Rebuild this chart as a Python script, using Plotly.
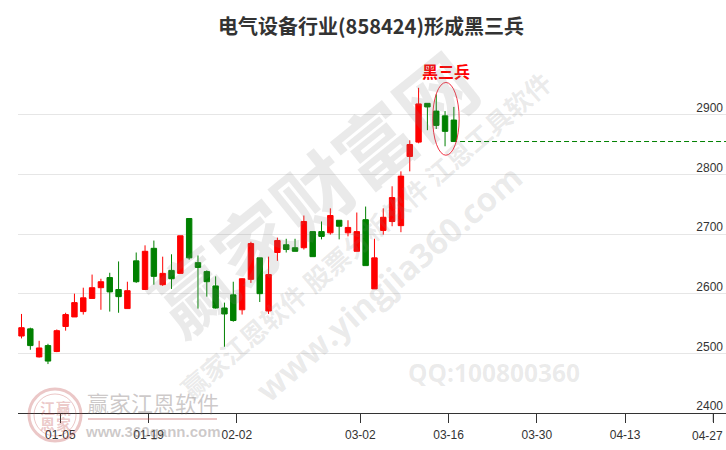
import plotly.graph_objects as go

# 蜡烛图数据
opens = [2529, 2541, 2494, 2513, 2503, 2545, 2561, 2570, 2592, 2610,
         2627, 2607, 2575, 2655, 2607, 2676, 2615, 2639, 2634, 2726,
         2652, 2637, 2613, 2576, 2598, 2573, 2624, 2660, 2571, 2669,
         2682, 2677, 2677, 2704, 2704, 2702, 2723, 2702, 2671, 2724,
         2608, 2706, 2721, 2714, 2830, 2854, 2919, 2906, 2898, 2891]
closes = [2543, 2513, 2509, 2487, 2538, 2565, 2585, 2593, 2610, 2620,
          2603, 2595, 2605, 2620, 2671, 2629, 2634, 2625, 2697, 2660,
          2644, 2620, 2576, 2566, 2555, 2625, 2684, 2600, 2632, 2689,
          2674, 2671, 2721, 2662, 2696, 2731, 2713, 2711, 2704, 2647,
          2660, 2728, 2761, 2797, 2850, 2918, 2913, 2882, 2872, 2855]
highs = [2566, 2543, 2521, 2516, 2540, 2568, 2600, 2610, 2632, 2625,
         2635, 2654, 2620, 2669, 2681, 2689, 2662, 2666, 2697, 2726,
         2664, 2639, 2629, 2585, 2620, 2626, 2687, 2660, 2662, 2694,
         2692, 2692, 2731, 2704, 2721, 2743, 2723, 2723, 2736, 2746,
         2692, 2743, 2780, 2805, 2857, 2945, 2919, 2934, 2906, 2913]
lows = [2525, 2506, 2493, 2482, 2502, 2538, 2561, 2565, 2592, 2573,
        2570, 2568, 2575, 2618, 2607, 2615, 2613, 2608, 2634, 2657,
        2575, 2595, 2575, 2511, 2553, 2565, 2618, 2586, 2566, 2655,
        2669, 2671, 2674, 2662, 2691, 2699, 2691, 2696, 2671, 2647,
        2608, 2699, 2713, 2703, 2805, 2852, 2874, 2876, 2847, 2855]

x_tick_index = [5, 15, 25, 39, 49, 59, 69, 79]
x_tick_labels = ['01-05', '01-19', '02-02', '03-02', '03-16', '03-30', '04-13', '04-27']
y_tick_vals = [2400, 2500, 2600, 2700, 2800, 2900, 3000]
y_tick_labels = ['2400', '2500', '2600', '2700', '2800', '2900', '']

W, H = 726, 450
L, T, B = 18, 55, 37
FONT = 'Liberation Sans'
CJK = 'Noto Sans CJK SC'
WM = 'rgba(128,128,128,0.17)'
PINK = 'rgba(190,70,70,0.3)'
LOGO = 'rgba(110,100,100,0.35)'
TICK_OFFSET = 0.6


def px(x):
    return (x - L) / (W - L)


def py(y):
    return (H - B - y) / (H - B - T)


def note(text, x, y, size, color, angle=0, font=CJK, bold=True):
    fig.add_annotation(
        text=f'<b>{text}</b>' if bold else text,
        xref='paper', yref='paper', x=px(x), y=py(y),
        xanchor='center', yanchor='middle', showarrow=False, textangle=angle,
        font=dict(family=font, size=size, color=color),
    )


fig = go.Figure()

fig.add_trace(go.Candlestick(
    x=list(range(len(opens))),
    open=opens, high=highs, low=lows, close=closes,
    increasing=dict(line=dict(color='#ff0000', width=1), fillcolor='#ff0000'),
    decreasing=dict(line=dict(color='#008000', width=1), fillcolor='#008000'),
    whiskerwidth=0,
    showlegend=False,
))

# 最后收盘价的虚线
fig.add_trace(go.Scatter(
    x=[len(closes) - 1 + 0.7, 79.84],
    y=[closes[-1], closes[-1]],
    mode='lines',
    line=dict(color='#008000', width=1, dash='5px,3px'),
    showlegend=False,
    hoverinfo='skip',
))

# 三根阴线的圈
fig.add_shape(type='circle', xref='x', yref='y', x0=46.6, x1=49.6, y0=2832, y1=2954,
              line=dict(color='rgba(240,30,50,0.9)', width=1))

note('黑三兵', 446, 71, 16, '#ff0000')

# 水印
note('赢家财富网', 312, 191, 78, WM, angle=-39)
note('赢家江恩软件 股票分析软件 江恩工具软件', 365, 234, 26, WM, angle=-41)
note('www.yingjia360.com', 388, 283, 33, WM, angle=-41, font='Open Sans')
note('QQ:100800360', 494, 372, 24.5, WM, font='Open Sans')

# 左下角标志
fig.add_shape(type='circle', xref='paper', yref='paper',
              x0=px(29), x1=px(81), y0=py(441), y1=py(389),
              line=dict(color=PINK, width=3))
fig.add_shape(type='circle', xref='paper', yref='paper',
              x0=px(34), x1=px(76), y0=py(436), y1=py(394),
              line=dict(color=PINK, width=1))
note('江', 47, 407, 15, PINK)
note('赢', 63, 407, 15, PINK)
note('恩', 47, 423, 15, PINK)
note('家', 63, 423, 15, PINK)
note('赢家江恩软件', 153, 402, 22, LOGO, bold=False)
fig.add_shape(type='line', xref='paper', yref='paper',
              x0=px(88), x1=px(217), y0=py(419), y1=py(419),
              line=dict(color=PINK, width=2))
note('www.360gann.com', 152, 431, 15, LOGO, font=FONT)

# 最右边的日期标签往左挪, 否则会超出画布; 刻度线补上
note(x_tick_labels[-1], 707.5, 436, 12, '#333333', font=FONT, bold=False)
fig.add_shape(type='line', xref='x', yref='paper',
              x0=x_tick_index[-1] - TICK_OFFSET, x1=x_tick_index[-1] - TICK_OFFSET,
              y0=py(413), y1=py(422), line=dict(color='#333333', width=1))

fig.update_layout(
    width=W, height=H,
    margin=dict(l=L, r=0, t=T, b=B, autoexpand=False),
    paper_bgcolor='white',
    plot_bgcolor='white',
    title=dict(
        text='<b>电气设备行业(858424)形成黑三兵</b>',
        x=371 / W, xanchor='center', y=1 - 27 / H, yanchor='middle',
        font=dict(family=CJK, size=20, color='#333333'),
    ),
    boxgap=0.12,
    hovermode=False,
)
fig.update_xaxes(
    range=[-0.397, 79.84],
    rangeslider_visible=False,
    tickmode='array',
    tickvals=[i - TICK_OFFSET for i in x_tick_index],
    ticktext=x_tick_labels[:-1] + [' '],
    ticks='outside', ticklen=9, tickcolor='#333333', tickwidth=1,
    ticklabeloverflow='allow',
    ticklabelstandoff=2,
    showline=True, linecolor='#333333', linewidth=1,
    showgrid=False, zeroline=False,
    tickfont=dict(family=FONT, size=12, color='#333333'),
)
fig.update_yaxes(
    range=[2400, 3000],
    side='right',
    tickmode='array',
    tickvals=y_tick_vals,
    ticktext=y_tick_labels,
    ticklabelposition='inside',
    ticklabeloverflow='allow',
    ticklabelshift=-7,
    ticks='',
    showline=False,
    gridcolor='#e6e6e6', gridwidth=1, zeroline=False,
    tickfont=dict(family=FONT, size=12, color='#333333'),
)

fig.write_html('out.html', config={'displayModeBar': False},
               post_script="document.body.style.margin='0';")
